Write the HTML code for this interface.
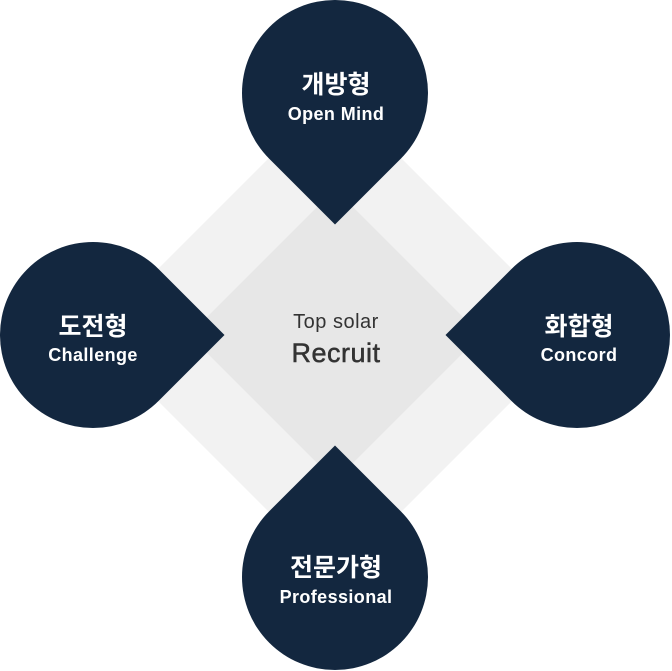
<!DOCTYPE html>
<html><head><meta charset="utf-8"><style>
html,body{margin:0;padding:0;background:#fff;}
svg{display:block;}
text{font-family:"Liberation Sans","Noto Sans CJK KR",sans-serif;text-anchor:middle;}
.k{font-size:25px;font-weight:bold;fill:#fff;}
.e{font-size:18px;font-weight:bold;fill:#fff;letter-spacing:0.4px;}
</style></head><body>
<svg width="672" height="671" viewBox="0 0 672 671">
<polygon points="335,92 578,335 335,578 92,335" fill="#f2f2f2"/>
<polygon points="335,189 481,335 335,481 189,335" fill="#e7e7e7"/>
<defs><path id="d" d="M335,224.5 L400.76,158.76 A93,93 0 1 0 269.24,158.76 Z" fill="#13273f"/></defs>
<use href="#d"/>
<use href="#d" transform="rotate(90 335 335)"/>
<use href="#d" transform="rotate(180 335 335)"/>
<use href="#d" transform="rotate(270 335 335)"/>
<text x="336" y="328" style="font-size:20px;fill:#333;letter-spacing:0.5px">Top solar</text>
<text x="336" y="362" style="font-size:27px;fill:#333;letter-spacing:0.5px;stroke:#333;stroke-width:0.5">Recruit</text>
<text class="k" x="336" y="93">개방형</text>
<text class="e" x="336" y="120">Open Mind</text>
<text class="k" x="93" y="335">도전형</text>
<text class="e" x="93" y="361">Challenge</text>
<text class="k" x="579" y="335">화합형</text>
<text class="e" x="579" y="361">Concord</text>
<text class="k" x="336" y="576">전문가형</text>
<text class="e" x="336" y="603">Professional</text>
</svg>
</body></html>
